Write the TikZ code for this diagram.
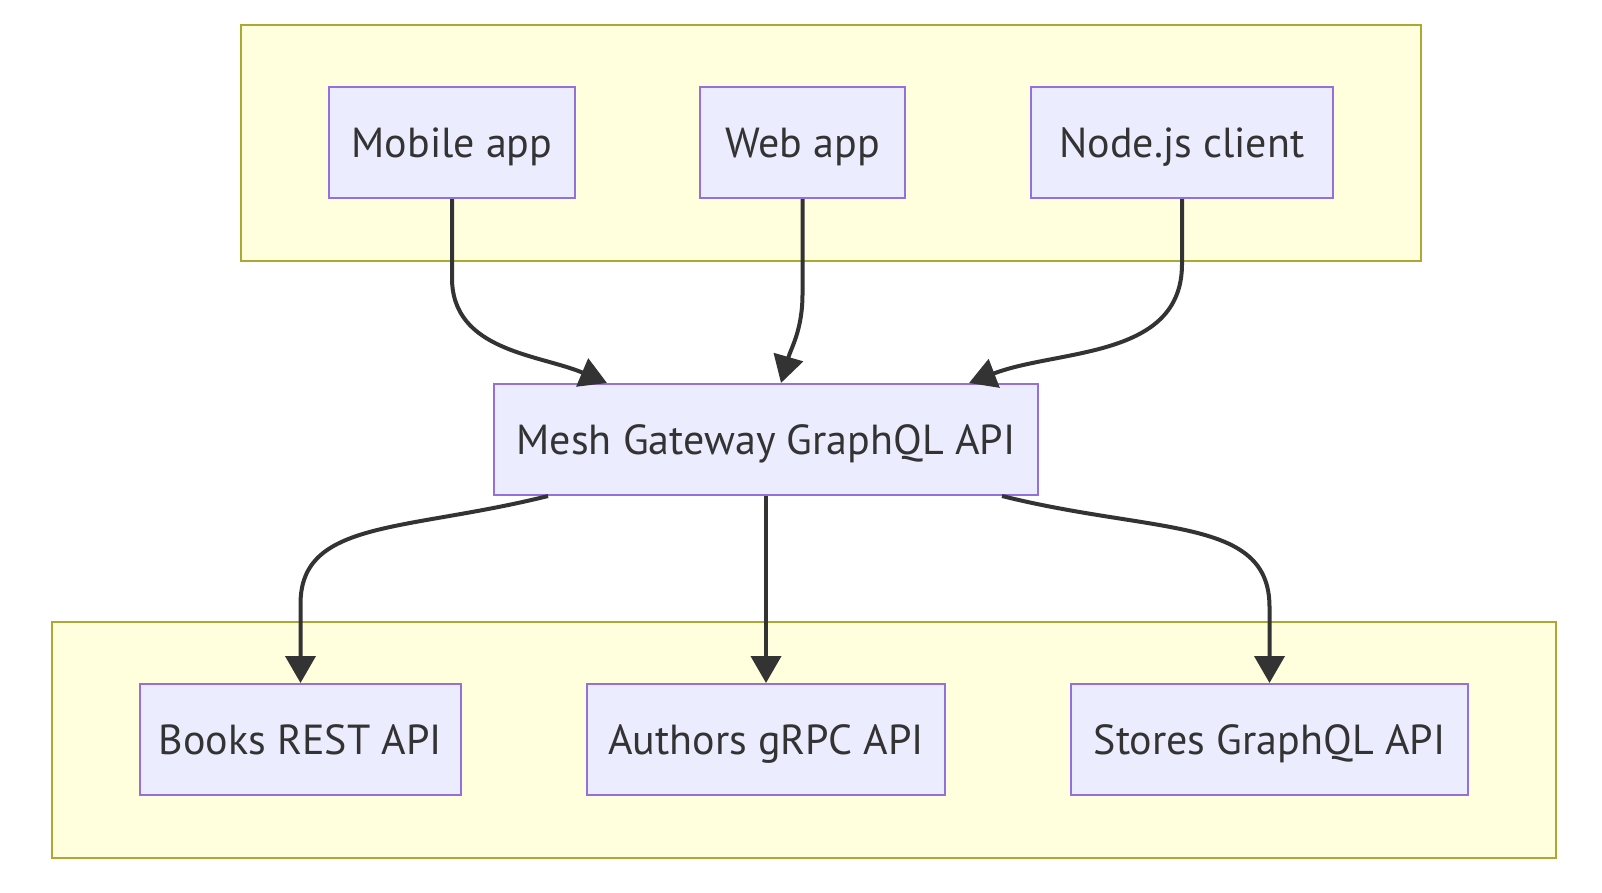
\documentclass[tikz,border=0pt]{standalone}
\usepackage{fontspec}
\setmainfont{PT Sans}
\usetikzlibrary{arrows.meta,positioning,fit,backgrounds}
\definecolor{nodefill}{HTML}{ECECFF}
\definecolor{nodeline}{HTML}{9370DB}
\definecolor{groupfill}{HTML}{FFFFDE}
\definecolor{groupline}{HTML}{AAAA33}
\definecolor{linkcol}{HTML}{333333}

\begin{document}
\begin{tikzpicture}[>={Triangle[length=27pt,width=30pt]}, node distance=124pt,
    block/.style={draw=nodeline, fill=nodefill, line width=2pt, minimum width=#1,
      minimum height=111pt, text=linkcol, font=\fontsize{42}{50}\selectfont,
      text height=30pt, text depth=0pt},
    cluster/.style={draw=groupline, fill=groupfill, line width=2pt,
      inner xsep=87pt, inner ysep=61.5pt},
    link/.style={->, draw=linkcol, line width=4pt}]
    \useasboundingbox (0,0) rectangle (1602pt,-892pt);

    % top row: clients
    \node [block=246pt] (mobile) at (452pt,-142.5pt) {Mobile app};
    \node [block=205pt, right=123pt of mobile] (web) {Web app};
    \node [block=302pt, right=124pt of web] (nodejs) {Node.js client};

    % gateway
    \node [block=544pt] (mesh) at (766pt,-439.5pt) {Mesh Gateway GraphQL API};

    % bottom row: sources
    \node [block=358pt, below=187pt of mesh] (authors) {Authors gRPC API};
    \node [block=321pt, left=124pt of authors] (books) {Books REST API};
    \node [block=397pt, right=124pt of authors] (stores) {Stores GraphQL API};

    % subgraph boxes
    \begin{scope}[on background layer]
      \node [cluster, fit=(mobile)(nodejs)] (clients) {};
      \node [cluster, fit=(books)(stores)] (sources) {};
    \end{scope}

    % clients to gateway
    \draw [link] (mobile.south) -- ++(0,-79pt) to[out=-90,in=157] ([xshift=114pt]mesh.north west);
    \draw [link] (web.south) -- ++(0,-95pt) to[out=-90,in=74] ([xshift=288pt]mesh.north west);
    \draw [link] (nodejs.south) -- ++(0,-65pt) to[out=-90,in=21] ([xshift=476pt]mesh.north west);

    % gateway to sources
    \draw [link] ([xshift=55pt]mesh.south west) to[out=-166,in=90,out looseness=1.4,in looseness=0.8] ([yshift=79pt]books.north) -- (books.north);
    \draw [link] (mesh.south) -- (authors.north);
    \draw [link] ([xshift=509pt]mesh.south west) to[out=-14,in=90,out looseness=1.4,in looseness=0.8] ([yshift=76pt]stores.north) -- (stores.north);
\end{tikzpicture}
\end{document}
